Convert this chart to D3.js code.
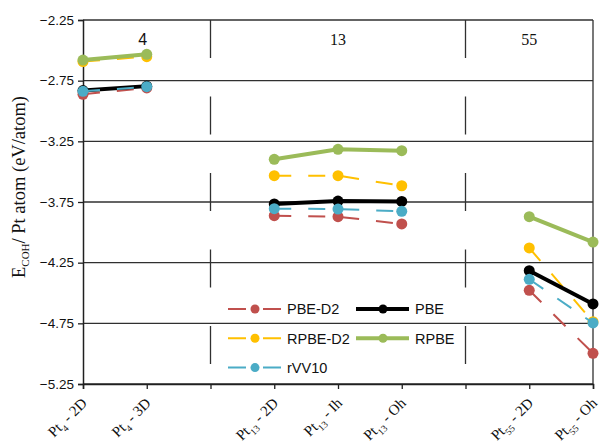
<!DOCTYPE html>
<html>
<head>
<meta charset="utf-8">
<script src="https://cdn.jsdelivr.net/npm/d3@7"></script>
<style>
  body { margin: 0; background: #fff; }
  svg { display: block; }
</style>
</head>
<body>
<script>
// slots on the x axis, "|a" and "|b" are the group separators
var slots = ["Pt4-2D", "Pt4-3D", "|a", "Pt13-2D", "Pt13-Ih", "Pt13-Oh", "|b", "Pt55-2D", "Pt55-Oh"];
var categories = ["Pt4-2D", "Pt4-3D", "Pt13-2D", "Pt13-Ih", "Pt13-Oh", "Pt55-2D", "Pt55-Oh"];
var catSize = ["4", "4", "13", "13", "13", "55", "55"];
var catShape = ["2D", "3D", "2D", "Ih", "Oh", "2D", "Oh"];
var groups = [["Pt4-2D", "Pt4-3D"], ["Pt13-2D", "Pt13-Ih", "Pt13-Oh"], ["Pt55-2D", "Pt55-Oh"]];
var groupLabels = ["4", "13", "55"];
var groupLabelAt = ["Pt4-3D", "Pt13-Ih", "Pt55-2D"];
var yTicks = [-2.25, -2.75, -3.25, -3.75, -4.25, -4.75, -5.25];

var pbeD2  = [-2.862, -2.81, -3.863, -3.871, -3.931, -4.478, -4.997];
var rpbeD2 = [-2.592, -2.552, -3.533, -3.533, -3.616, -4.129, -4.737];
var pbe    = [-2.832, -2.795, -3.766, -3.742, -3.745, -4.316, -4.590];
var rpbe   = [-2.580, -2.533, -3.398, -3.316, -3.327, -3.871, -4.080];
var rvv10  = [-2.838, -2.800, -3.805, -3.808, -3.827, -4.387, -4.747];

var series = [
	{name: "PBE-D2",  values: pbeD2,  color: "#C0504D", dashed: true},
	{name: "RPBE-D2", values: rpbeD2, color: "#FFC000", dashed: true},
	{name: "PBE",     values: pbe,    color: "#000000", dashed: false},
	{name: "RPBE",    values: rpbe,   color: "#9BBB59", dashed: false},
	{name: "rVV10",   values: rvv10,  color: "#4BACC6", dashed: true}
];
var legendOrder = ["PBE-D2", "PBE", "RPBE-D2", "RPBE", "rVV10"];

var w = 599;
var h = 444;
var padL = 83, padR = 593, padT = 20, padB = 384;
var sans = "'Liberation Sans', Arial, sans-serif";
var serif = "'Liberation Serif', 'Times New Roman', serif";

var svg = d3.select("body").append("svg")
	.attr("width", w)
	.attr("height", h);

var xScale = d3.scalePoint()
	.domain(slots)
	.range([padL, padR]);

var yScale = d3.scaleLinear()
	.domain([-5.25, -2.25])
	.range([padB, padT]);

// grid lines
svg.append("g").selectAll("line")
	.data(yTicks)
	.enter()
	.append("line")
	.attr("x1", padL)
	.attr("x2", padR)
	.attr("y1", d => yScale(d))
	.attr("y2", d => yScale(d))
	.attr("stroke", "#303030")
	.attr("stroke-width", 1.3);

// right border
svg.append("line")
	.attr("x1", padR).attr("x2", padR)
	.attr("y1", padT).attr("y2", padB)
	.attr("stroke", "#303030")
	.attr("stroke-width", 1.3);

// separators
svg.append("g").selectAll("line")
	.data(slots.filter(s => s[0] === "|"))
	.enter()
	.append("line")
	.attr("x1", d => xScale(d))
	.attr("x2", d => xScale(d))
	.attr("y1", padT)
	.attr("y2", padB)
	.attr("stroke", "#303030")
	.attr("stroke-width", 1.3)
	.attr("stroke-dasharray", "38,38.5");

// axes
var yAxis = d3.axisLeft(yScale)
	.tickValues(yTicks)
	.tickSize(5)
	.tickFormat(d3.format(".2f"));

var gy = svg.append("g")
	.attr("transform", "translate(" + padL + ",0)")
	.call(yAxis);
gy.select(".domain").attr("stroke", "#202020").attr("stroke-width", 1.5);
gy.selectAll(".tick line").attr("stroke", "#202020").attr("stroke-width", 1.3);
gy.selectAll(".tick text")
	.attr("font-family", sans)
	.attr("font-size", 13.5)
	.attr("fill", "#111")
	.attr("x", -9);

var xAxis = d3.axisBottom(xScale)
	.tickSize(5)
	.tickFormat("");

var gx = svg.append("g")
	.attr("transform", "translate(0," + padB + ")")
	.call(xAxis);
gx.select(".domain").attr("stroke", "#202020").attr("stroke-width", 1.5);
gx.selectAll(".tick line").attr("stroke", "#202020").attr("stroke-width", 1.3);

// rotated category labels
var xl = svg.append("g").selectAll("text")
	.data(categories)
	.enter()
	.append("text")
	.attr("transform", d => "translate(" + (xScale(d) + 5) + ",404) rotate(-45)")
	.attr("text-anchor", "end")
	.attr("font-family", serif)
	.attr("font-size", 15)
	.attr("fill", "#111");
xl.append("tspan").text("Pt");
xl.append("tspan")
	.attr("font-size", 9.5)
	.attr("dy", 4.5)
	.text((d, i) => catSize[i]);
xl.append("tspan")
	.attr("dy", -4.5)
	.text((d, i) => " - " + catShape[i]);

// cluster size labels
svg.append("g").selectAll("text")
	.data(groupLabels)
	.enter()
	.append("text")
	.attr("x", (d, i) => xScale(groupLabelAt[i]) - (i === 0 ? 4 : 0))
	.attr("y", 45)
	.attr("text-anchor", "middle")
	.attr("font-family", (d, i) => i === 0 ? sans : serif)
	.attr("font-size", 16)
	.attr("fill", "#111")
	.text(d => d);

// y title
var yt = svg.append("text")
	.attr("transform", "translate(25,187) rotate(-90)")
	.attr("text-anchor", "middle")
	.attr("font-family", serif)
	.attr("font-size", 18.5)
	.attr("fill", "#111");
yt.append("tspan").text("E");
yt.append("tspan").attr("font-size", 11).attr("dy", 4).text("COH");
yt.append("tspan").attr("dy", -4).text("/ Pt atom (eV/atom)");

// series
var line = d3.line()
	.x(d => xScale(d.cat))
	.y(d => yScale(d.v));

series.forEach(function(s){
	var pts = categories.map((c, i) => ({cat: c, v: s.values[i]}));
	var g = svg.append("g");
	groups.forEach(function(grp){
		g.append("path")
			.datum(pts.filter(p => grp.indexOf(p.cat) >= 0))
			.attr("d", line)
			.attr("fill", "none")
			.attr("stroke", s.color)
			.attr("stroke-width", s.dashed ? 2 : 4)
			.attr("stroke-dasharray", s.dashed ? "17,17" : null);
	});
	g.selectAll("circle")
		.data(pts)
		.enter()
		.append("circle")
		.attr("cx", d => xScale(d.cat))
		.attr("cy", d => yScale(d.v))
		.attr("r", 5.5)
		.attr("fill", s.color);
});

// legend
var leg = svg.append("g");
legendOrder.forEach(function(name, i){
	var s = series.find(d => d.name === name);
	var col = i % 2, row = Math.floor(i / 2);
	var x0 = 228 + col * 128;
	var y0 = 309 + row * 29.3;
	leg.append("line")
		.attr("x1", x0).attr("x2", x0 + 53)
		.attr("y1", y0).attr("y2", y0)
		.attr("stroke", s.color)
		.attr("stroke-width", s.dashed ? 2 : 4)
		.attr("stroke-dasharray", s.dashed ? "18,17" : null);
	leg.append("circle")
		.attr("cx", x0 + 27)
		.attr("cy", y0)
		.attr("r", 4.5)
		.attr("fill", s.color);
	leg.append("text")
		.attr("x", x0 + 59)
		.attr("y", y0)
		.attr("dy", "0.36em")
		.attr("font-family", sans)
		.attr("font-size", 14.5)
		.attr("fill", "#111")
		.text(name);
});
</script>
</body>
</html>
